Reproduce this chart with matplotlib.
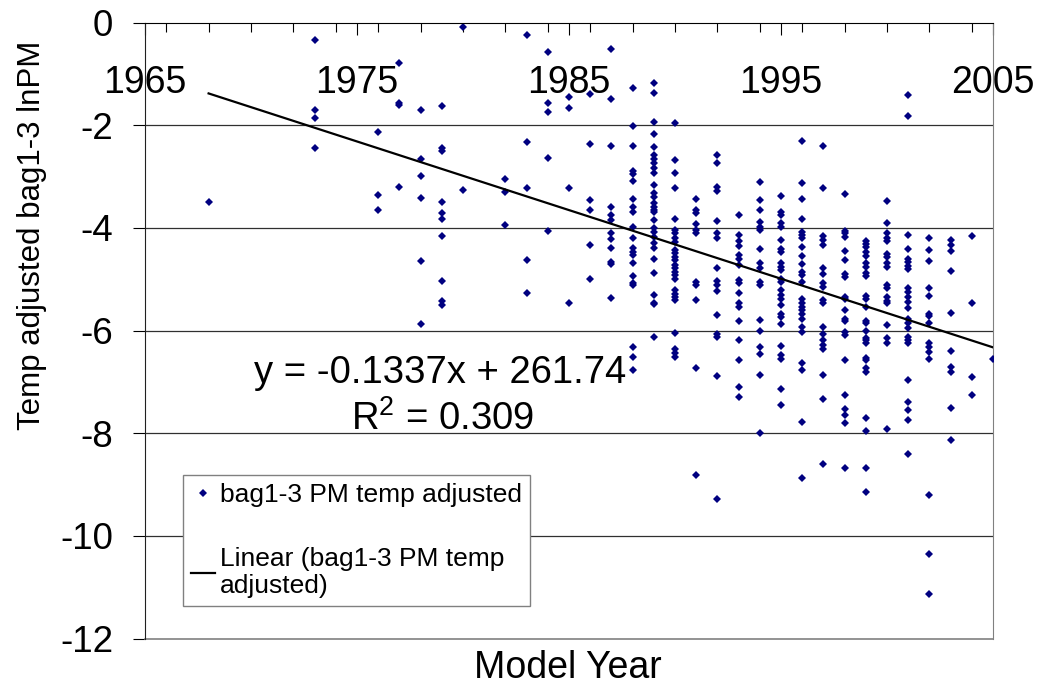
import matplotlib
matplotlib.use("Agg")
import numpy as np
from matplotlib import pyplot as plt
from matplotlib.ticker import MultipleLocator, FixedLocator

plt.rcParams['font.family'] = ['Liberation Sans', 'DejaVu Sans']
plt.rcParams['axes.unicode_minus'] = False
plt.rcParams['mathtext.fontset'] = 'custom'
plt.rcParams['mathtext.rm'] = 'Liberation Sans'

pm_1968 = [-3.50]
pm_1973 = [-0.34, -1.71, -1.86, -2.45]
pm_1976 = [-2.14, -3.37, -3.66]
pm_1977 = [-0.78, -1.57, -1.60, -3.20]
pm_1978 = [-1.71, -2.65, -2.99, -3.41, -4.65, -5.87]
pm_1979 = [-1.62, -2.45, -2.50, -3.50, -3.72, -3.83, -4.16, -5.03, -5.43, -5.51]
pm_1980 = [-0.08, -3.27]
pm_1982 = [-3.05, -3.31, -3.95]
pm_1983 = [-0.24, -2.33, -3.22, -4.62, -5.26]
pm_1984 = [-0.58, -1.56, -1.74, -2.64, -4.06]
pm_1985 = [-1.45, -1.67, -3.22, -5.47]
pm_1986 = [-1.39, -2.36, -3.46, -3.65, -4.34, -4.99]
pm_1987 = [-0.52, -1.49, -2.41, -3.60, -3.75, -3.85, -4.11, -4.21, -4.40,
           -4.66, -4.71, -5.36]
pm_1988 = [-1.28, -2.02, -2.41, -2.89, -2.95, -3.08, -3.43, -3.59, -3.69,
           -3.98, -4.19, -4.40, -4.47, -4.53, -4.69, -4.94, -5.08, -5.12,
           -6.32, -6.51, -6.77]
pm_1989 = [-1.17, -1.37, -1.93, -2.17, -2.42, -2.58, -2.65, -2.74, -2.84,
           -2.93, -3.17, -3.33, -3.40, -3.52, -3.59, -3.66, -3.69, -3.85,
           -4.01, -4.08, -4.18, -4.30, -4.40, -4.60, -4.88, -5.31, -5.46,
           -5.49, -6.12]
pm_1990 = [-1.95, -2.68, -2.94, -3.23, -3.83, -4.04, -4.11, -4.19, -4.27,
           -4.43, -4.50, -4.57, -4.63, -4.73, -4.79, -4.86, -4.92, -4.99,
           -5.21, -5.28, -5.34, -5.41, -6.05, -6.37, -6.44, -6.51]
pm_1991 = [-3.43, -3.65, -3.71, -3.93, -4.04, -4.10, -5.05, -5.12, -5.41,
           -6.74, -8.81]
pm_1992 = [-2.58, -2.73, -3.21, -3.28, -3.87, -4.11, -4.19, -4.79, -5.04,
           -5.12, -5.23, -5.70, -6.06, -6.12, -6.88, -9.29]
pm_1993 = [-3.75, -4.14, -4.25, -4.36, -4.53, -4.60, -4.73, -5.02, -5.08,
           -5.27, -5.47, -5.54, -5.81, -6.18, -6.57, -7.10, -7.29]
pm_1994 = [-3.10, -3.45, -3.66, -3.88, -3.98, -4.04, -4.42, -4.69, -4.79,
           -5.05, -5.12, -5.79, -6.01, -6.33, -6.46, -6.87, -8.00]
pm_1995 = [-3.38, -3.69, -3.75, -3.91, -3.98, -4.23, -4.42, -4.47, -4.69,
           -4.76, -4.82, -4.99, -5.05, -5.21, -5.31, -5.38, -5.51, -5.67,
           -5.73, -5.88, -6.31, -6.48, -6.55, -7.13, -7.46]
pm_1996 = [-2.31, -3.12, -3.43, -3.83, -4.08, -4.14, -4.19, -4.37, -4.55,
           -4.71, -4.86, -4.92, -5.05, -5.38, -5.46, -5.54, -5.60, -5.68,
           -5.77, -5.94, -6.03, -6.63, -6.76, -7.79, -8.88]
pm_1997 = [-2.41, -3.22, -4.16, -4.24, -4.34, -4.79, -4.89, -5.08, -5.15,
           -5.41, -5.46, -5.93, -6.06, -6.19, -6.29, -6.37, -6.87, -7.33,
           -8.61]
pm_1998 = [-3.34, -4.06, -4.11, -4.18, -4.45, -4.62, -4.89, -4.95, -5.34,
           -5.38, -5.60, -5.77, -5.81, -6.03, -6.09, -6.57, -7.26, -7.52,
           -7.65, -7.81, -8.67]
pm_1999 = [-4.25, -4.32, -4.38, -4.47, -4.55, -4.69, -4.76, -4.88, -4.94,
           -5.33, -5.38, -5.54, -5.81, -5.86, -6.01, -6.14, -6.19, -6.25,
           -6.53, -6.57, -6.74, -6.81, -7.70, -7.96, -8.68, -9.15]
pm_2000 = [-3.48, -3.91, -4.11, -4.19, -4.25, -4.51, -4.57, -4.69, -4.76,
           -5.12, -5.17, -5.34, -5.42, -5.47, -5.90, -6.14, -6.25, -7.92]
pm_2001 = [-1.42, -1.83, -4.14, -4.42, -4.60, -4.66, -4.75, -4.81, -5.18,
           -5.25, -5.34, -5.44, -5.57, -5.77, -5.86, -5.96, -6.12, -6.19,
           -6.25, -6.96, -7.40, -7.55, -7.75, -8.41]
pm_2002 = [-4.19, -4.43, -4.65, -5.18, -5.33, -5.67, -5.72, -5.85, -6.25,
           -6.33, -6.42, -6.55, -9.20, -10.36, -11.14]
pm_2003 = [-4.24, -4.34, -4.45, -4.84, -5.66, -6.40, -6.72, -6.81, -7.51,
           -8.14]
pm_2004 = [-4.15, -5.47, -6.91, -7.26]
pm_2005 = [-6.55]

by_year = {
    1968: pm_1968, 1973: pm_1973, 1976: pm_1976, 1977: pm_1977,
    1978: pm_1978, 1979: pm_1979, 1980: pm_1980, 1982: pm_1982,
    1983: pm_1983, 1984: pm_1984, 1985: pm_1985, 1986: pm_1986,
    1987: pm_1987, 1988: pm_1988, 1989: pm_1989, 1990: pm_1990,
    1991: pm_1991, 1992: pm_1992, 1993: pm_1993, 1994: pm_1994,
    1995: pm_1995, 1996: pm_1996, 1997: pm_1997, 1998: pm_1998,
    1999: pm_1999, 2000: pm_2000, 2001: pm_2001, 2002: pm_2002,
    2003: pm_2003, 2004: pm_2004, 2005: pm_2005,
}

# trendline from the chart's equation
slope = -0.1337
intercept = 261.74
fit_years = [1968, 2005]

x_ticks = [1965, 1975, 1985, 1995, 2005]
y_ticks = [0, -2, -4, -6, -8, -10, -12]

years = np.concatenate([[yr] * len(v) for yr, v in by_year.items()])
vals = np.concatenate(list(by_year.values()))

fig = plt.figure(figsize=(10.39, 6.87), dpi=100)
ax = fig.add_axes([145 / 1039, 1 - 638.5 / 687, 848 / 1039, 616 / 687])

for g in y_ticks[1:-1]:
    ax.axhline(g, color='#303030', lw=0.9, zorder=1)

pts, = ax.plot(years, vals, 'D', color='#000080', markersize=4.0,
               markeredgewidth=0, label='bag1-3 PM temp adjusted', zorder=3)
fx = np.array(fit_years)
trend, = ax.plot(fx, slope * fx + intercept, color='black', lw=1.6,
                 label='Linear (bag1-3 PM temp\nadjusted)', zorder=4)

ax.set_xlim(1965, 2005)
ax.set_ylim(-12, 0)

ax.spines['bottom'].set_position(('data', 0))
ax.spines['bottom'].set_zorder(5)
ax.spines['top'].set_visible(False)
ax.spines['right'].set_color('#808080')
ax.spines['left'].set_color('#202020')
ax.axhline(-12, color='#808080', lw=1.2, clip_on=False)

ax.xaxis.set_major_locator(FixedLocator(x_ticks))
ax.xaxis.set_minor_locator(MultipleLocator(2))
ax.set_xticklabels([str(t) for t in x_ticks])
ax.set_yticks(y_ticks)
ax.set_yticklabels([str(t) for t in y_ticks])
ax.tick_params(axis='x', which='major', direction='out', length=8.5,
               width=0.8, pad=22, labelsize=27, colors='black')
ax.tick_params(axis='x', which='minor', direction='out', length=6.5,
               width=0.8)
ax.tick_params(axis='y', direction='out', length=8.5, width=0.8, pad=14.5,
               labelsize=26.5)

ax.text(1978.9, -7.03, 'y = -0.1337x + 261.74', fontsize=27.5,
        ha='center', va='baseline')
ax.text(1979.05, -7.94, 'R$^2$ = 0.309', fontsize=27.5,
        ha='center', va='baseline')

leg = ax.legend(handles=[pts, trend], loc='upper left',
                bbox_to_anchor=(0.0448, 0.2654), borderaxespad=0,
                fontsize=19, fancybox=False, framealpha=1,
                edgecolor='#808080', handlelength=0.9, handletextpad=0.2,
                labelspacing=1.5, borderpad=0.3, markerscale=1.0)
leg.get_frame().set_linewidth(1.0)

fig.text(32 / 1039, 1 - 235 / 687, 'Temp adjusted bag1-3 lnPM', fontsize=22.5,
         rotation=90, ha='center', va='center')
fig.text(568 / 1039, 1 - 668 / 687, 'Model Year', fontsize=27,
         ha='center', va='center')

fig.savefig('out.png', dpi=100)
